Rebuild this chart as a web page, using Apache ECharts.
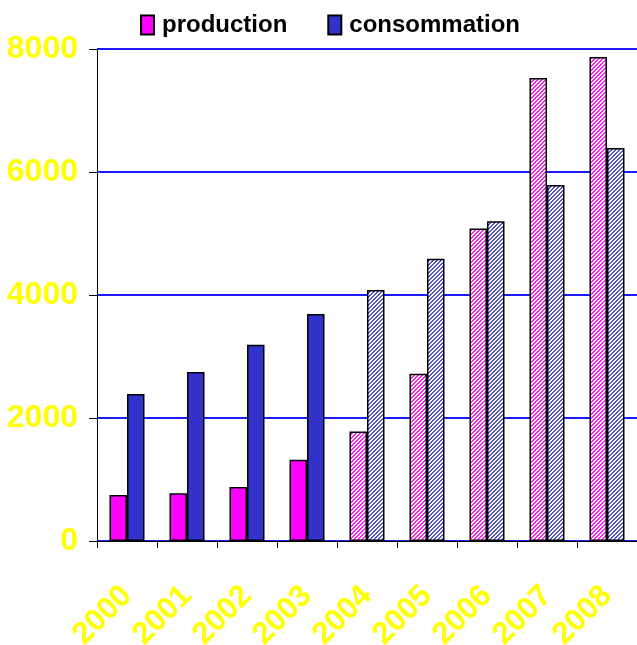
<!DOCTYPE html>
<html>
<head>
<meta charset="utf-8">
<script src="https://cdn.jsdelivr.net/npm/echarts@6/dist/echarts.min.js"></script>
<style>
html,body{margin:0;padding:0;background:#fff;}
#c{width:637px;height:645px;}
</style>
</head>
<body>
<div id="c"></div>
<script>
var years = ['2000','2001','2002','2003','2004','2005','2006','2007','2008'];
var production = [750, 775, 880, 1320, 1780, 2720, 5080, 7530, 7870];
var consommation = [2390, 2750, 3190, 3690, 4080, 4590, 5200, 5790, 6390];
var hatched = [false, false, false, false, true, true, true, true, true];
var yTicks = [0, 2000, 4000, 6000, 8000];

function makePattern(fg){
  var cv = document.createElement('canvas');
  cv.width = 4; cv.height = 4;
  var ctx = cv.getContext('2d');
  ctx.fillStyle = '#ffffff';
  ctx.fillRect(0,0,4,4);
  ctx.fillStyle = fg;
  for (var x=0;x<4;x++) for (var y=0;y<4;y++){
    if ((x+y)%4 < 2) ctx.fillRect(x,y,1,1);
  }
  return {image: cv, repeat: 'repeat'};
}
var pinkPat = makePattern('#ff22ee');
var bluePat = makePattern('#5555cc');

function build(vals, pat){
  return vals.map(function(v,i){
    return hatched[i] ? {value: v, itemStyle: {color: pat}} : {value: v};
  });
}

var labelFont = '"Liberation Sans", Arial, sans-serif';
var chart = echarts.init(document.getElementById('c'), null, {renderer:'canvas'});
chart.setOption({
  animation: false,
  backgroundColor: '#ffffff',
  legend: {
    left: 135, top: 8,
    itemWidth: 13, itemHeight: 19, itemGap: 40,
    icon: 'rect',
    textStyle: {fontFamily: labelFont, fontWeight: 'bold', fontSize: 24, color: '#000', padding: [0,0,0,3]},
    data: ['production', 'consommation']
  },
  grid: {left: 97, right: 0, top: 49, bottom: 104, containLabel: false, outerBoundsMode: 'none'},
  xAxis: {
    type: 'category', data: years,
    axisLine: {lineStyle: {color: '#000', width: 1}},
    axisTick: {show: true, length: 7, interval: 0, lineStyle: {color: '#000'}},
    axisLabel: {interval: 0, rotate: 45, margin: 50, color: '#ffff00', fontFamily: labelFont, fontWeight: 'bold', fontSize: 31}
  },
  yAxis: {
    type: 'value', min: yTicks[0], max: yTicks[yTicks.length-1], interval: 2000,
    axisLine: {show: true, lineStyle: {color: '#000033', width: 1}},
    axisTick: {show: true, length: 8, lineStyle: {color: '#000'}},
    splitLine: {lineStyle: {color: '#1a1aff', width: 2}},
    axisLabel: {margin: 19, color: '#ffff00', fontFamily: labelFont, fontWeight: 'bold', fontSize: 32,
      formatter: function(v){ return String(v); }}
  },
  series: [
    {name: 'production', type: 'bar', barWidth: 17.5, barGap: '0%',
     itemStyle: {color: '#ff00ff', borderColor: '#000', borderWidth: 1.5},
     data: build(production, pinkPat)},
    {name: 'consommation', type: 'bar', barWidth: 17.5, barGap: '0%',
     itemStyle: {color: '#3333cc', borderColor: '#000', borderWidth: 1.5},
     data: build(consommation, bluePat)}
  ]
});
</script>
</body>
</html>
